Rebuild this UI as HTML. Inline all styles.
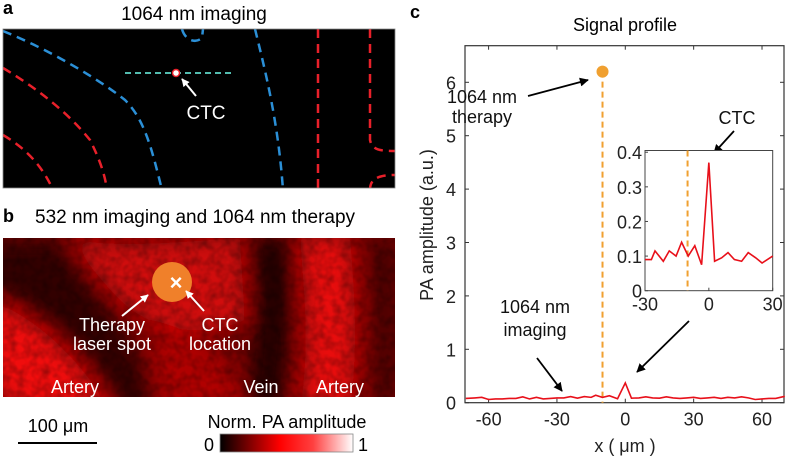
<!DOCTYPE html>
<html><head><meta charset="utf-8"><style>
html,body{margin:0;padding:0;background:#fff;}
svg{display:block;font-family:"Liberation Sans",Arial,sans-serif;}
</style></head><body>
<svg width="787" height="456" viewBox="0 0 787 456" xmlns="http://www.w3.org/2000/svg">
<defs>
<marker id="ab" viewBox="0 0 10 10" refX="9" refY="5" markerWidth="5" markerHeight="5" orient="auto"><path d="M0,0L10,5L0,10z" fill="#000"/></marker>
<marker id="aw" viewBox="0 0 10 10" refX="9" refY="5" markerWidth="4" markerHeight="4" orient="auto"><path d="M0,0L10,5L0,10z" fill="#fff"/></marker>
<filter id="blur" x="-20%" y="-20%" width="140%" height="140%"><feGaussianBlur stdDeviation="10"/></filter>
<filter id="noise"><feTurbulence type="fractalNoise" baseFrequency="0.12" numOctaves="2" seed="3"/><feColorMatrix values="0 0 0 0 0  0 0 0 0 0  0 0 0 0 0  0 0 0 0.9 -0.3"/></filter>
<clipPath id="cpa"><rect x="3" y="29" width="392" height="159"/></clipPath>
<clipPath id="cpb"><rect x="3" y="238" width="392" height="159"/></clipPath>
<linearGradient id="cbar" x1="0" x2="1"><stop offset="0" stop-color="#000"/><stop offset="0.45" stop-color="#f00"/><stop offset="0.7" stop-color="#ff4040"/><stop offset="1" stop-color="#fff"/></linearGradient>
</defs>

<!-- Panel a -->
<text x="3" y="14" font-size="18" font-weight="bold">a</text>
<text x="194" y="20" font-size="19" text-anchor="middle">1064 nm imaging</text>
<g clip-path="url(#cpa)">
<rect x="3" y="29" width="392" height="159" fill="#000"/>
<g fill="none" stroke-width="2.5" stroke-dasharray="9,6">
<path d="M3,31 C50,50 100,80 125,100 C145,120 152,150 162,190" stroke="#2b8fd6"/>
<path d="M182,29 C185,40 195,44 202,38 L203,29" stroke="#2b8fd6"/>
<path d="M255,29 C265,70 278,120 283,190" stroke="#2b8fd6"/>
<path d="M3,68 C40,90 70,115 90,140 C100,160 105,175 107,190" stroke="#e8202a"/>
<path d="M3,135 C25,148 42,165 53,190" stroke="#e8202a"/>
<path d="M318,29 L318,190" stroke="#e8202a"/>
<path d="M370,29 L370,140 C372,150 380,151 395,151" stroke="#e8202a"/>
<path d="M370,190 C370,180 376,175 395,175" stroke="#e8202a"/>
</g>
<line x1="125" y1="73" x2="232" y2="73" stroke="#5fd6c8" stroke-width="1.8" stroke-dasharray="6,4"/>
<circle cx="176" cy="73" r="3.5" fill="#fff" stroke="#e8202a" stroke-width="1.5"/>
<line x1="196" y1="96" x2="182" y2="79" stroke="#fff" stroke-width="2" marker-end="url(#aw)"/>
<text x="206" y="119" font-size="19" fill="#fff" text-anchor="middle">CTC</text>
</g>
<rect x="3" y="29" width="392" height="159" fill="none" stroke="#888" stroke-width="0.8"/>

<!-- Panel b -->
<text x="3" y="222" font-size="18" font-weight="bold">b</text>
<text x="35" y="223" font-size="19">532 nm imaging and 1064 nm therapy</text>
<g clip-path="url(#cpb)">
<rect x="3" y="238" width="392" height="159" fill="#7a0000"/>
<g filter="url(#blur)">
<path d="M-10,300 C40,320 80,360 110,410 L20,410 L-10,380z" fill="#f01010"/>
<path d="M70,238 C110,250 200,240 240,238 L245,320 C200,340 150,330 120,300 C100,280 85,260 70,238z" fill="#d00808"/>
<path d="M150,320 C200,330 235,360 245,410 L160,410z" fill="#b00000"/>
<path d="M-10,240 L60,240 C80,270 100,300 120,325 C135,345 150,390 160,410 L120,410 C100,370 70,330 10,300 L-10,290z" fill="#300000"/>
<path d="M250,238 L290,238 C295,300 290,350 280,410 L245,410 C255,350 260,300 250,238z" fill="#200000"/>
<path d="M300,238 L350,238 C355,300 358,350 350,410 L300,410 C310,350 305,300 300,238z" fill="#e81010"/>
<path d="M372,238 L395,238 L395,410 L378,410z" fill="#400000"/>
</g>
<rect x="3" y="238" width="392" height="159" filter="url(#noise)" opacity="0.6"/>
<circle cx="172" cy="282" r="20" fill="#f0802a"/>
<text x="176" y="290" font-size="22" fill="#fff" text-anchor="middle" font-weight="bold">×</text>
<g fill="#fff" font-size="18" text-anchor="middle">
<line x1="122" y1="316" x2="148" y2="295" stroke="#fff" stroke-width="2" marker-end="url(#aw)"/>
<line x1="204" y1="311" x2="186" y2="291" stroke="#fff" stroke-width="2" marker-end="url(#aw)"/>
<text x="112" y="331">Therapy</text>
<text x="112" y="350">laser spot</text>
<text x="220" y="331">CTC</text>
<text x="220" y="350">location</text>
<text x="75" y="393">Artery</text>
<text x="261" y="393">Vein</text>
<text x="340" y="393">Artery</text>
</g>
</g>
<text x="58" y="432" font-size="18" text-anchor="middle">100 μm</text>
<line x1="18" y1="443" x2="97" y2="443" stroke="#000" stroke-width="2"/>
<text x="287" y="428" font-size="18" text-anchor="middle">Norm. PA amplitude</text>
<rect x="220" y="434" width="133" height="18" fill="url(#cbar)" stroke="#888" stroke-width="0.8"/>
<text x="204" y="451" font-size="18">0</text>
<text x="358" y="451" font-size="18">1</text>

<!-- Panel c -->
<text x="410" y="18" font-size="18" font-weight="bold">c</text>
<text x="625" y="31" font-size="18" text-anchor="middle">Signal profile</text>
<g id="chart"></g>
</svg>
<script>
const mainX = [-70,-66,-63,-60,-57,-54,-51,-48,-45,-42,-39,-36,-33,-30,-27,-24,-21,-18,-15,-13,-10,-7,-3.4,0,2.7,6,9,12,15,18,21,24,27,30,33,36,39,42,45,48,51,54,57,60,63,66,70];
const mainY = [0.08,0.09,0.1,0.06,0.07,0.07,0.08,0.08,0.11,0.07,0.1,0.07,0.08,0.09,0.09,0.115,0.085,0.115,0.1,0.14,0.1,0.13,0.075,0.37,0.085,0.09,0.11,0.09,0.085,0.11,0.09,0.08,0.09,0.1,0.08,0.09,0.1,0.08,0.1,0.09,0.11,0.09,0.06,0.07,0.08,0.08,0.12];
const insetX = [-30,-27,-25.3,-21.4,-18.6,-15.4,-12.8,-9.7,-6.6,-3.4,0,2.7,6,9,12,15.4,18.5,22,25,30];
const insetY = [0.09,0.09,0.115,0.085,0.115,0.1,0.14,0.1,0.13,0.075,0.37,0.085,0.095,0.11,0.09,0.085,0.11,0.095,0.08,0.1];
const xTicks = [-60,-30,0,30,60];
const yTicks = [0,1,2,3,4,5,6];
const insetXTicks = [-30,0,30];
const insetYTicks = [0,0.1,0.2,0.3,0.4];
const therapyX = [-10];
const therapyY = [6.2];

const NS='http://www.w3.org/2000/svg';
const g=document.getElementById('chart');
function mk(t,a,p){const e=document.createElementNS(NS,t);for(const k in a)e.setAttribute(k,a[k]);(p||g).appendChild(e);return e;}
const L=465,R=784,T=45.7,B=402.7;
const sx=v=>625.3+(v)*(R-L)/140;
const sy=v=>B-v*53.4;
const iL=645,iR=772.7,iT=150.5,iB=290.7;
const ix=v=>iL+(v+30)*(iR-iL)/60;
const iy=v=>iB-v*(iB-iT)/0.405;
const FS=18;

let box=mk('rect',{x:L,y:T,width:R-L,height:B-T,fill:'none',stroke:'#333','stroke-width':1.2});


xTicks.forEach(v=>{
  mk('line',{x1:sx(v),x2:sx(v),y1:B,y2:B-4,stroke:'#333'});
  mk('line',{x1:sx(v),x2:sx(v),y1:T,y2:T+4,stroke:'#333'});
  const t=mk('text',{x:sx(v),y:B+23,'font-size':FS,'text-anchor':'middle',fill:'#222'});t.textContent=v;
  
  
});
yTicks.forEach(v=>{
  mk('line',{x1:L,x2:L+4,y1:sy(v),y2:sy(v),stroke:'#333'});
  mk('line',{x1:R,x2:R-4,y1:sy(v),y2:sy(v),stroke:'#333'});
  const t=mk('text',{x:L-9,y:sy(v)+7,'font-size':FS,'text-anchor':'end',fill:'#222'});t.textContent=v;
  
  
});
let xl=mk('text',{x:625,y:452,'font-size':FS,'text-anchor':'middle',fill:'#222'});xl.textContent='x ( μm )';


let yl=mk('text',{x:0,y:0,'font-size':FS,'text-anchor':'middle',fill:'#222',transform:'translate(433,225) rotate(-90)'});yl.textContent='PA amplitude (a.u.)';



let tl=mk('line',{x1:sx(therapyX[0]),x2:sx(therapyX[0]),y1:sy(therapyY[0]),y2:B,stroke:'#f0a030','stroke-width':2,'stroke-dasharray':'6,4'});


let td=mk('circle',{cx:sx(therapyX[0]),cy:sy(therapyY[0]),r:6,fill:'#f0a030'});



let mp=mk('polyline',{points:mainX.map((x,i)=>sx(x)+','+sy(mainY[i])).join(' '),fill:'none',stroke:'#e8101a','stroke-width':1.6});



function txt(x,y,s,n){const t=mk('text',{x:x,y:y,'font-size':FS,'text-anchor':'middle',fill:'#111'});t.textContent=s;if(n){}return t;}
txt(482,103,'1064 nm','therapy-annotation');txt(482,123,'therapy');
mk('line',{x1:528,y1:96,x2:588,y2:80,stroke:'#000','stroke-width':1.8,'marker-end':'url(#ab)'});
txt(535,313,'1064 nm','imaging-annotation');txt(535,336,'imaging');
mk('line',{x1:537,y1:358,x2:562,y2:391,stroke:'#000','stroke-width':1.8,'marker-end':'url(#ab)'});
mk('line',{x1:689,y1:321,x2:637,y2:372,stroke:'#000','stroke-width':1.8,'marker-end':'url(#ab)'});
txt(737,124,'CTC','ctc-annotation');
mk('line',{x1:734,y1:131,x2:714,y2:153,stroke:'#000','stroke-width':1.8,'marker-end':'url(#ab)'});

let ib=mk('rect',{x:iL,y:iT,width:iR-iL,height:iB-iT,fill:'#fff',stroke:'#444','stroke-width':1});


insetXTicks.forEach(v=>{
  mk('line',{x1:ix(v),x2:ix(v),y1:iB,y2:iB-3,stroke:'#444'});
  const t=mk('text',{x:ix(v),y:iB+20,'font-size':FS,'text-anchor':'middle',fill:'#222'});t.textContent=v;
  
  
});
insetYTicks.forEach(v=>{
  mk('line',{x1:iL,x2:iL+3,y1:iy(v),y2:iy(v),stroke:'#444'});
  const t=mk('text',{x:iL-3,y:iy(v)+7,'font-size':FS,'text-anchor':'end',fill:'#222'});t.textContent=v;
  
  
});
let il=mk('line',{x1:ix(therapyX[0]),x2:ix(therapyX[0]),y1:iT,y2:iB,stroke:'#f0a030','stroke-width':2,'stroke-dasharray':'6,4'});


let ip=mk('polyline',{points:insetX.map((x,i)=>ix(x)+','+iy(insetY[i])).join(' '),fill:'none',stroke:'#e8101a','stroke-width':1.6});


</script>
</body></html>
